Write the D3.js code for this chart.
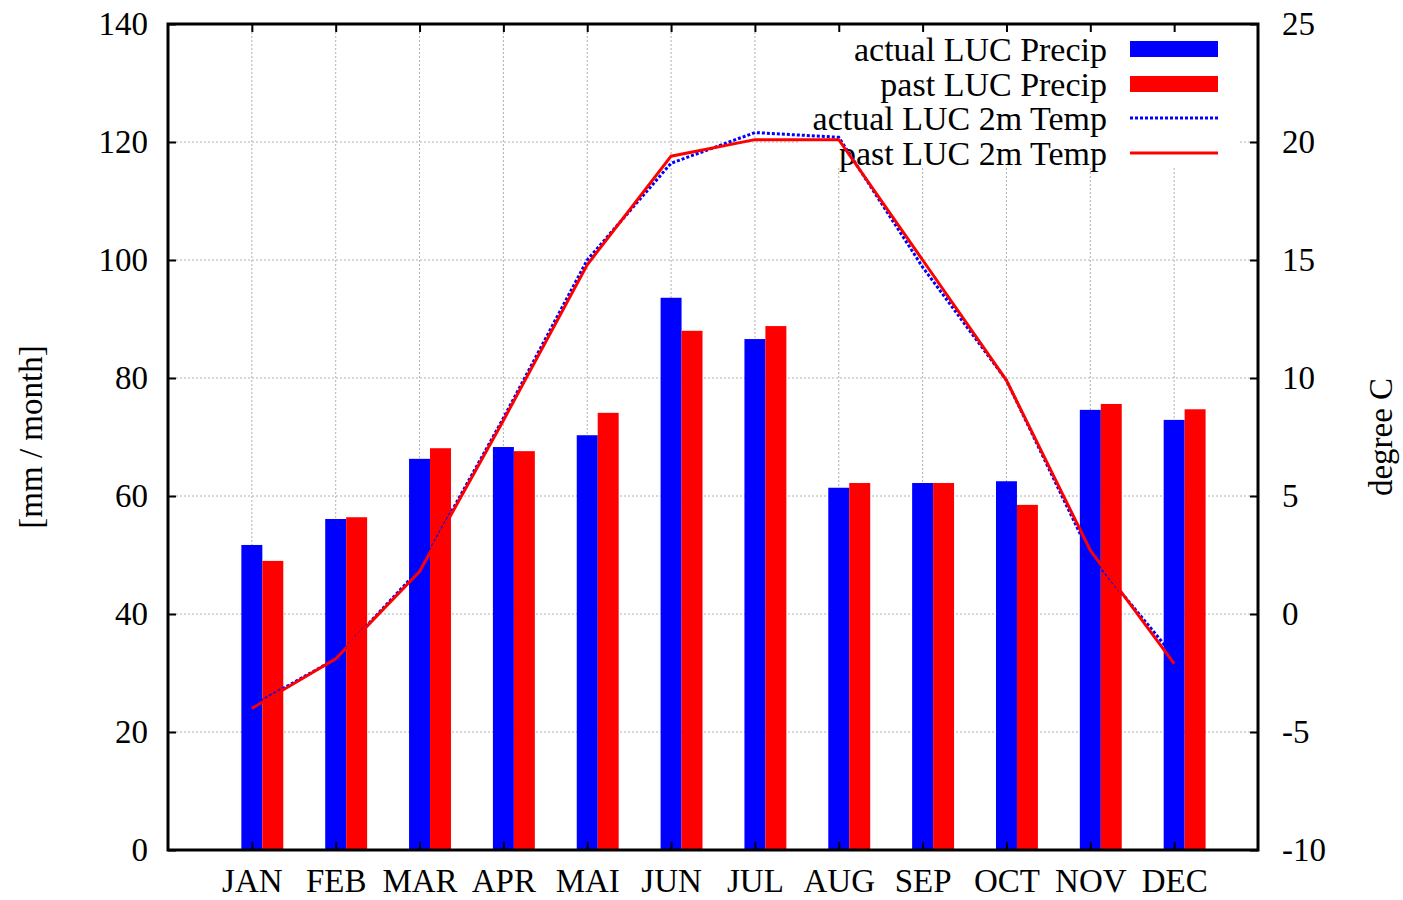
<!DOCTYPE html>
<html>
<head>
<meta charset="utf-8">
<script src="https://cdn.jsdelivr.net/npm/d3@7"></script>
<style>
  html, body { margin: 0; padding: 0; background: #fff; }
  svg { display: block; }
  text { font-family: "Liberation Serif", "DejaVu Serif", serif; fill: #000; }
</style>
</head>
<body>
<svg id="chart" width="1403" height="900"></svg>
<script>
// Monthly climatology: precipitation (left axis) and 2 m temperature (right axis)
const months = ["JAN","FEB","MAR","APR","MAI","JUN","JUL","AUG","SEP","OCT","NOV","DEC"];
const precipActual = [51.7, 56.1, 66.3, 68.3, 70.3, 93.6, 86.6, 61.4, 62.2, 62.5, 74.6, 72.9];
const precipPast   = [49.0, 56.4, 68.1, 67.6, 74.1, 88.0, 88.8, 62.2, 62.2, 58.5, 75.6, 74.7];
const tempActual   = [-3.9, -1.9, 1.9, 8.3, 15.0, 19.1, 20.4, 20.2, 14.7, 9.9, 2.5, -1.8];
const tempPast     = [-4.0, -1.9, 1.8, 8.2, 14.8, 19.4, 20.1, 20.1, 15.0, 9.9, 2.7, -2.1];
const precipTicks  = [0, 20, 40, 60, 80, 100, 120, 140];
const tempTicks    = [-10, -5, 0, 5, 10, 15, 20, 25];
const legendLabels = ["actual LUC Precip", "past LUC Precip", "actual LUC 2m Temp", "past LUC 2m Temp"];

const svg = d3.select("#chart");
const L = 168, R = 1258, T = 24, B = 850;
const FS = 33;

const x  = d3.scaleLinear().domain([0, 13]).range([L, R]);
const yP = d3.scaleLinear().domain([0, 140]).range([B, T]);
const yT = d3.scaleLinear().domain([-10, 25]).range([B, T]);
const idx = d3.range(12);
const barW = 0.25;

// grid
const grid = svg.append("g").attr("stroke", "#b0b0b0").attr("stroke-width", 1)
  .attr("stroke-dasharray", "2,2");
grid.selectAll("line.h").data(precipTicks.slice(1, -1)).join("line")
  .attr("x1", L).attr("x2", R).attr("y1", d => yP(d)).attr("y2", d => yP(d));
grid.selectAll("line.v").data(idx).join("line")
  .attr("x1", i => x(i + 1)).attr("x2", i => x(i + 1)).attr("y1", T).attr("y2", B);

// bars
const bars = svg.append("g");
bars.selectAll("rect.a").data(idx).join("rect")
  .attr("x", i => x(i + 1 - barW / 2)).attr("width", x(barW) - x(0))
  .attr("y", i => yP(precipActual[i])).attr("height", i => yP(0) - yP(precipActual[i]))
  .attr("fill", "#0000ff");
bars.selectAll("rect.p").data(idx).join("rect")
  .attr("x", i => x(i + 1 + barW / 2)).attr("width", x(barW) - x(0))
  .attr("y", i => yP(precipPast[i])).attr("height", i => yP(0) - yP(precipPast[i]))
  .attr("fill", "#ff0000");

// legend (opaque box)
const lg = svg.append("g");
lg.append("rect").attr("x", 800).attr("y", T + 2).attr("width", 440).attr("height", 142).attr("fill", "#fff");
const rowY = [49, 84, 118, 153];
lg.selectAll("text").data(legendLabels).join("text")
  .attr("x", 1107).attr("y", (d, i) => rowY[i]).attr("dy", "0.35em")
  .attr("text-anchor", "end").attr("font-size", 34).text(d => d);
lg.append("rect").attr("x", 1130).attr("y", rowY[0] - 8).attr("width", 88).attr("height", 16).attr("fill", "#0000ff");
lg.append("rect").attr("x", 1130).attr("y", rowY[1] - 8).attr("width", 88).attr("height", 16).attr("fill", "#ff0000");
lg.append("line").attr("x1", 1130).attr("x2", 1218).attr("y1", rowY[2]).attr("y2", rowY[2])
  .attr("stroke", "#0000ff").attr("stroke-width", 3).attr("stroke-dasharray", "3,2");
lg.append("line").attr("x1", 1130).attr("x2", 1218).attr("y1", rowY[3]).attr("y2", rowY[3])
  .attr("stroke", "#ff0000").attr("stroke-width", 3);

// temperature lines
const line = arr => d3.line().x(i => x(i + 1)).y(i => yT(arr[i]))(idx);
svg.append("path").attr("d", line(tempActual)).attr("fill", "none")
  .attr("stroke", "#0000ff").attr("stroke-width", 3).attr("stroke-dasharray", "3,2");
svg.append("path").attr("d", line(tempPast)).attr("fill", "none")
  .attr("stroke", "#ff0000").attr("stroke-width", 3);

// axes
const plain = d => String(d);
const axL = svg.append("g").attr("transform", `translate(${L},0)`)
  .call(d3.axisLeft(yP).tickValues(precipTicks).tickSize(-8).tickPadding(20).tickFormat(plain));
const axR = svg.append("g").attr("transform", `translate(${R},0)`)
  .call(d3.axisRight(yT).tickValues(tempTicks).tickSize(-8).tickPadding(24).tickFormat(plain));
const axT = svg.append("g").attr("transform", `translate(0,${T})`)
  .call(d3.axisTop(x).tickValues(idx.map(i => i + 1)).tickSize(-8).tickFormat(""));
const axB = svg.append("g").attr("transform", `translate(0,${B})`)
  .call(d3.axisBottom(x).tickValues(idx.map(i => i + 1)).tickSize(-8).tickPadding(19)
    .tickFormat((d, i) => months[i]));
[axL, axR, axT, axB].forEach(a => {
  a.select(".domain").remove();
  a.selectAll(".tick line").attr("stroke", "#000").attr("stroke-width", 2);
  a.selectAll(".tick text").attr("font-size", FS).attr("font-family", "Liberation Serif");
});

// frame
svg.append("rect").attr("x", L).attr("y", T).attr("width", R - L).attr("height", B - T)
  .attr("fill", "none").attr("stroke", "#000").attr("stroke-width", 3);

// axis titles
svg.append("text").attr("transform", "translate(30,437) rotate(-90)")
  .attr("text-anchor", "middle").attr("dy", "0.35em").attr("font-size", FS).text("[mm / month]");
svg.append("text").attr("transform", "translate(1380,437) rotate(-90)")
  .attr("text-anchor", "middle").attr("dy", "0.35em").attr("font-size", FS).text("degree C");
</script>
</body>
</html>
